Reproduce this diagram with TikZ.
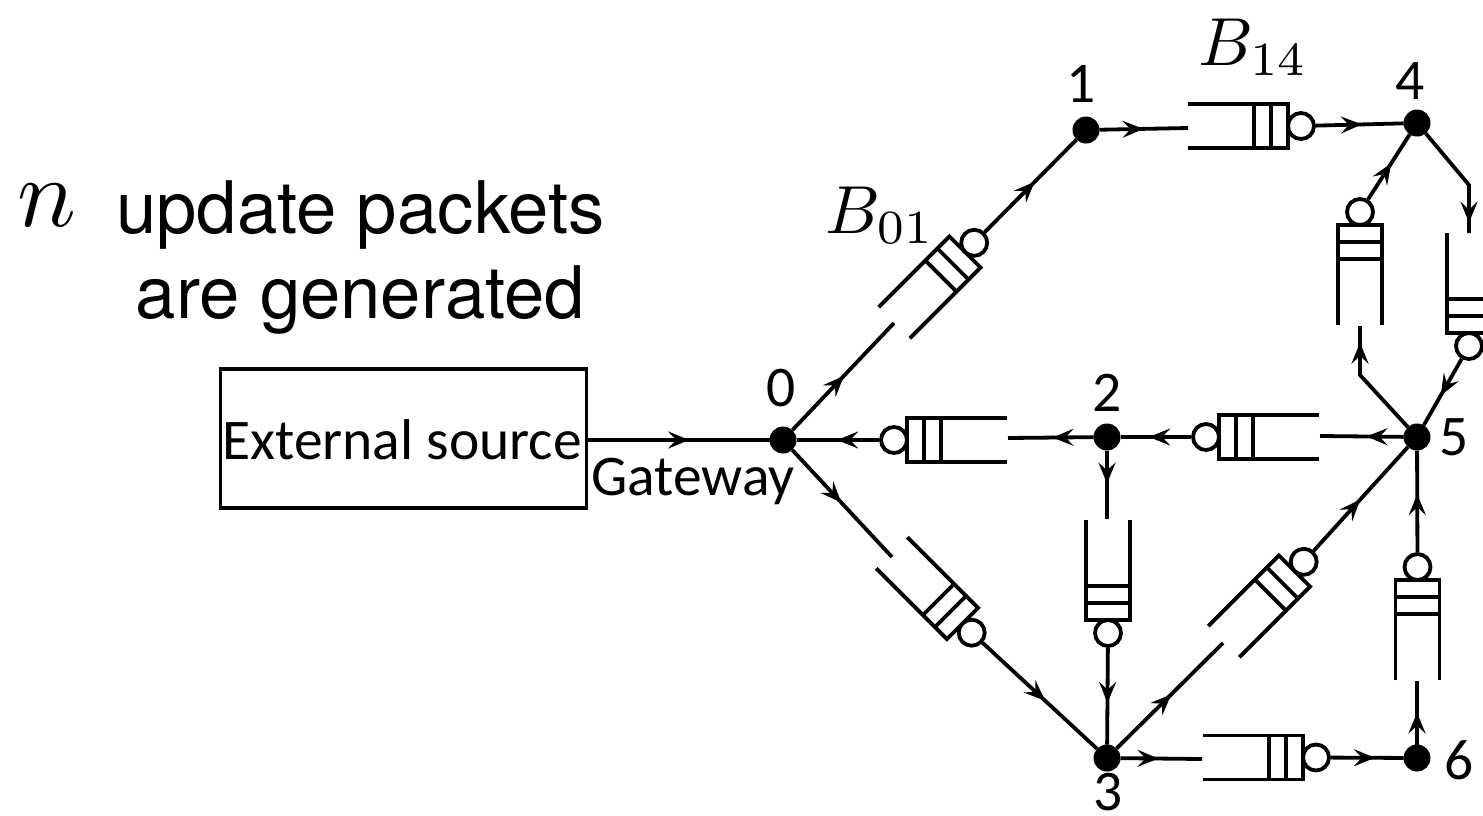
\documentclass[tikz,border=0pt]{standalone}
\usepackage{fontspec}
\setmainfont{Carlito}
\newfontfamily\headfont{TeX Gyre Heros}
\usetikzlibrary{positioning,arrows.meta,decorations.markings}
\tikzstyle{hop}=[circle, fill=black, inner sep=0pt, outer sep=0pt, minimum size=27pt]
\tikzstyle{qserver}=[circle, draw=black, fill=white, line width=3.8pt, inner sep=0pt, minimum size=26pt]
\tikzstyle{qline}=[-, line width=3.8pt]
\tikzstyle{pline}=[-, line width=3.8pt]
\tikzstyle{srcbox}=[rectangle, draw=black, line width=3.4pt, inner sep=0pt, minimum width=366pt, minimum height=139pt]
\tikzstyle{nlabel}=[font=\fontsize{57.5}{60}\selectfont, inner sep=0pt]
\tikzstyle{mlabel}=[scale=6.8, inner sep=0pt]
\tikzset{flow/.style={postaction={decorate, decoration={markings,
  mark=at position #1pt with {\arrow{Stealth[length=21pt,width=17pt,inset=8pt]}}}}}}
% name, closed end of the buffer, direction, inlet point
\newcommand{\qbuf}[4]{%
  \begin{scope}[shift={(#2)},rotate=#3]
    \draw[qline] (-100,-22) -- (0,-22) -- (0,22) -- (-100,22);
    \draw[qline] (-17,-22) -- (-17,22);
    \draw[qline] (-34,-22) -- (-34,22);
    \node (#1s) [qserver] at (13,0) {};
  \end{scope}
  \coordinate (#1in) at (#4);
}
\begin{document}
\begin{tikzpicture}[x=1pt,y=-1pt]
\useasboundingbox (0,0) rectangle (1483,815);
\clip (0,0) rectangle (1483,815);

\node (SRC) [srcbox] at (403.5,438.5) {};
\node (SRCTXT) [nlabel] at (402,440) {External source};
\node (GATE) [nlabel] at (693,481) {Gateway};
\node (UPD) [font=\headfont\fontsize{72.5}{85}\selectfont, align=center, inner sep=0pt] at (360.5,257)
  {update packets\\are generated};
\node (NPK) [scale=9.8, inner sep=0pt] at (47,205) {$n$};
\node (B01) [mlabel] at (880,215) {$B_{01}$};
\node (B14) [mlabel] at (1253,47) {$B_{14}$};

\node (N0) [hop] at (783,440) {};
\node (N1) [hop] at (1086,130) {};
\node (N2) [hop] at (1107,437) {};
\node (N3) [hop] at (1107,758) {};
\node (N4) [hop] at (1417,123) {};
\node (N5) [hop] at (1417,437) {};
\node (N6) [hop] at (1417,758) {};
\node (L0) [nlabel] at (781,388) {0};
\node (L1) [nlabel] at (1081,84) {1};
\node (L2) [nlabel] at (1107,393) {2};
\node (L3) [nlabel] at (1108,792) {3};
\node (L4) [nlabel] at (1410,81) {4};
\node (L5) [nlabel] at (1454,437) {5};
\node (L6) [nlabel] at (1459,760) {6};

\qbuf{Q01}{965,252}{45}{894,323}
\qbuf{Q03}{962.5,623.5}{-45}{892,557}
\qbuf{Q14}{1288,126}{0}{1188,128}
\qbuf{Q20}{907,440}{180}{1008,438}
\qbuf{Q23}{1108,620}{-90}{1107,519}
\qbuf{Q35}{1294.5,571}{45}{1223,643}
\qbuf{Q36}{1303,757.5}{0}{1202,759}
\qbuf{Q45}{1469,333}{-90}{1469,233}
\qbuf{Q52}{1219,437}{180}{1320,436}
\qbuf{Q54}{1360,225}{90}{1360,326}
\qbuf{Q65}{1417.5,580}{90}{1417,681}

\coordinate (B45) at (1469,185);
\coordinate (B54) at (1360,375);

\draw[pline,flow=101] (N0 -| SRC.east) -- (N0);
\draw[pline,flow=75] (N0) -- (Q01in);
\draw[pline,flow=71] (Q01s) -- (N1);
\draw[pline,flow=72] (N0) -- (Q03in);
\draw[pline,flow=85] (Q03s) -- (N3);
\draw[pline,flow=44] (N1) -- (Q14in);
\draw[pline,flow=46] (Q14s) -- (N4);
\draw[pline,flow=41] (N2) -- (Q20in);
\draw[pline,flow=42] (Q20s) -- (N0);
\draw[pline,flow=33] (N2) -- (Q23in);
\draw[pline,flow=55] (Q23s) -- (N3);
\draw[pline,flow=77] (N3) -- (Q35in);
\draw[pline,flow=69] (Q35s) -- (N5);
\draw[pline,flow=38] (N3) -- (Q36in);
\draw[pline,flow=44] (Q36s) -- (N6);
\draw[pline,flow=105] (N4) -- (B45) -- (Q45in);
\draw[pline,flow=42] (Q45s) -- (N5);
\draw[pline,flow=37] (N5) -- (Q52in);
\draw[pline,flow=42] (Q52s) -- (N2);
\draw[pline,flow=103] (N5) -- (B54) -- (Q54in);
\draw[pline,flow=43] (Q54s) -- (N4);
\draw[pline,flow=32] (N6) -- (Q65in);
\draw[pline,flow=58] (Q65s) -- (N5);

\end{tikzpicture}
\end{document}
